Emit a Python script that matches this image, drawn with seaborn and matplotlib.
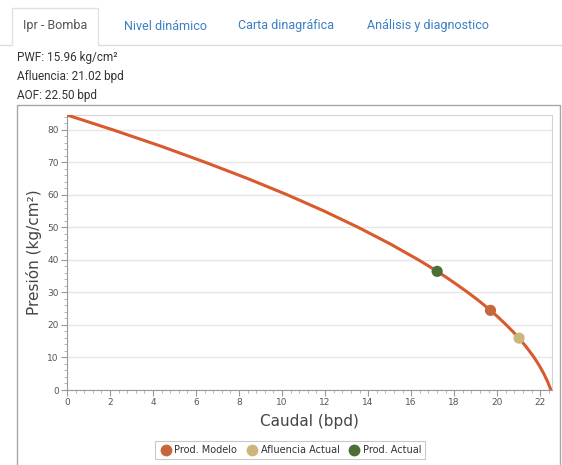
import matplotlib
matplotlib.use('Agg')
import matplotlib.pyplot as plt
import seaborn as sns
import pandas as pd
from matplotlib.patches import Rectangle
from matplotlib.lines import Line2D
from matplotlib.ticker import MultipleLocator

# IPR curve (caudal bpd, presion kg/cm2)
curve_q = [0.0, 2.15, 4.37, 6.45, 8.42, 10.26, 11.97, 13.55, 15.01, 16.35, 16.97,
           17.56, 18.11, 18.64, 19.14, 19.60, 20.03, 20.43, 20.80, 21.14, 21.44,
           21.72, 21.96, 22.17, 22.35, 22.44, 22.50]
curve_p = [84.6, 80, 75, 70, 65, 60, 55, 50, 45, 40, 37.5,
           35, 32.5, 30, 27.5, 25, 22.5, 20, 17.5, 15, 12.5,
           10, 7.5, 5, 2.5, 1, 0]

point_names = ['Prod. Modelo', 'Afluencia Actual', 'Prod. Actual']
point_q = [19.69, 21.02, 17.21]
point_p = [24.5, 15.96, 36.5]
point_colors = ['#c8653d', '#cdb67c', '#4e6e38']

tabs = ['Ipr - Bomba', 'Nivel dinámico', 'Carta dinagráfica', 'Análisis y diagnostico']
info_lines = ['PWF: 15.96 kg/cm²', 'Afluencia: 21.02 bpd', 'AOF: 22.50 bpd']

sns.set_style('white')
plt.rcParams['font.family'] = ['DejaVu Sans']

W, H = 562, 465
fig = plt.figure(figsize=(W / 100, H / 100), dpi=100)


def fx(px):
    return px / W


def fy(py):
    return 1 - py / H


# tab strip
fig.add_artist(Line2D([fx(0), fx(12)], [fy(45), fy(45)], color='#dddddd', lw=1))
fig.add_artist(Line2D([fx(98), fx(562)], [fy(45), fy(45)], color='#dddddd', lw=1))
fig.add_artist(Line2D([fx(12), fx(12), fx(98), fx(98)], [fy(45), fy(8), fy(8), fy(45)],
                      color='#e2e2e2', lw=1))
tab_x = [55, 165, 286, 428]
for i, (t, x) in enumerate(zip(tabs, tab_x)):
    fig.text(fx(x), fy(26), t, ha='center', va='center', fontsize=9, family=['Roboto'],
             color='#555555' if i == 0 else '#3a7fc1')

for i, line in enumerate(info_lines):
    fig.text(fx(17), fy(58 + i * 18.5), line, ha='left', va='center', fontsize=8.5,
             family=['Roboto'], color='#333333')

# chart frame
fig.add_artist(Rectangle((fx(17), fy(470)), fx(560) - fx(17), fy(105) - fy(470),
                         fill=False, edgecolor='#a8a8a8', lw=1))

ax = fig.add_axes([fx(67), fy(390), fx(552) - fx(67), fy(115) - fy(390)])
curve = pd.DataFrame({'q': curve_q, 'p': curve_p})
sns.lineplot(data=curve, x='q', y='p', ax=ax, color='#d95a2e', lw=2.2, sort=False, zorder=3)

pts = pd.DataFrame({'q': point_q, 'p': point_p, 'name': point_names})
sns.scatterplot(data=pts, x='q', y='p', hue='name', hue_order=point_names,
                palette=point_colors, s=65, edgecolor='none', ax=ax, zorder=4, legend=False)

ax.set_xlim(0, 22.55)
ax.set_ylim(0, 84.6)
ax.xaxis.set_major_locator(MultipleLocator(2))
ax.xaxis.set_minor_locator(MultipleLocator(0.4))
ax.yaxis.set_major_locator(MultipleLocator(10))
ax.yaxis.set_minor_locator(MultipleLocator(2))
ax.grid(axis='y', which='major', color='#e6e6e6', lw=1)
ax.set_axisbelow(True)
ax.tick_params(axis='both', which='major', length=4, width=0.8, color='#999999',
               labelsize=6.5, labelcolor='#555555', direction='out', pad=2)
ax.tick_params(axis='both', which='minor', length=2, width=0.6, color='#aaaaaa', direction='out')
ax.tick_params(bottom=True, left=True, which='both')
for s in ['left', 'bottom']:
    ax.spines[s].set_color('#999999')
for s in ['top', 'right']:
    ax.spines[s].set_color('#d4d4d4')

ax.set_xlabel('Caudal (bpd)', fontsize=11, color='#444444', labelpad=5)
ax.set_ylabel('Presión (kg/cm²)', fontsize=11, color='#444444', labelpad=4)

handles = [Line2D([], [], marker='o', ls='none', markersize=8.5, markerfacecolor=c,
                  markeredgecolor='none') for c in point_colors]
leg_labels = ['Prod. Modelo', 'Afluencia Actual', 'Prod. Actual']
leg = fig.legend(handles, leg_labels, loc='center', bbox_to_anchor=(fx(290), fy(450)),
                 ncol=3, fontsize=7, frameon=True, fancybox=False, edgecolor='#bbbbbb',
                 handletextpad=0.1, columnspacing=0.8, borderpad=0.4, handlelength=1.5)
leg.get_frame().set_linewidth(0.8)
for t in leg.get_texts():
    t.set_color('#333333')

fig.savefig('out.png', dpi=100)
